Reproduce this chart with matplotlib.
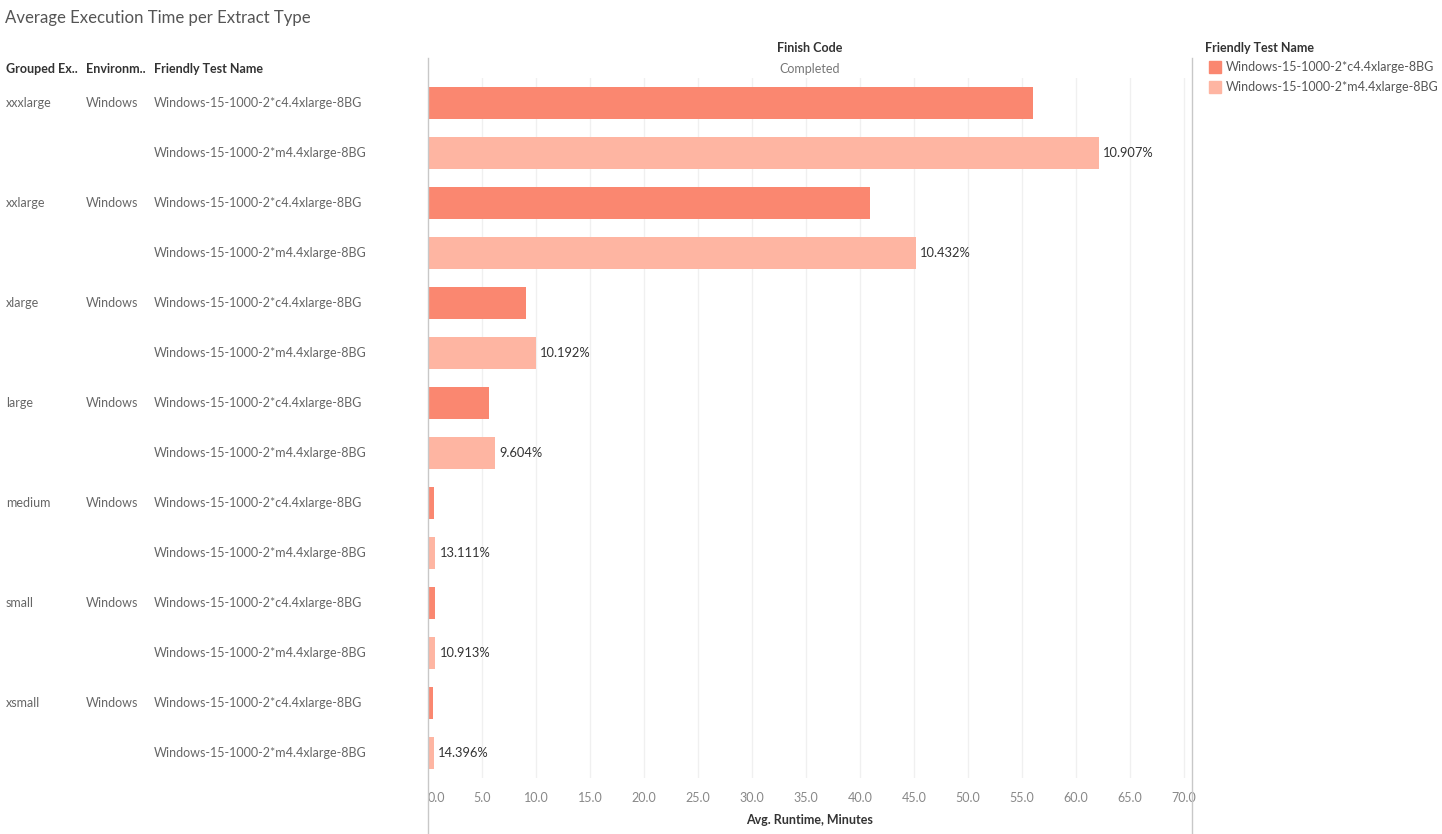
import matplotlib.pyplot as plt
from matplotlib.patches import Rectangle
import matplotlib.transforms as mtransforms

plt.rcParams['font.family'] = ['Lato', 'DejaVu Sans']

# data
groups = ["xxxlarge", "xxlarge", "xlarge", "large", "medium", "small", "xsmall"]
environment = "Windows"
tests = ["Windows-15-1000-2*c4.4xlarge-8BG", "Windows-15-1000-2*m4.4xlarge-8BG"]
c4_runtime = [56.0, 40.9, 9.07, 5.65, 0.60, 0.62, 0.45]
m4_runtime = [62.1, 45.2, 10.0, 6.2, 0.68, 0.69, 0.52]
pct_labels = ["10.907%", "10.432%", "10.192%", "9.604%", "13.111%", "10.913%", "14.396%"]
xticks = [0, 5, 10, 15, 20, 25, 30, 35, 40, 45, 50, 55, 60, 65, 70]

c4_color = "#FA8770"
m4_color = "#FEB5A2"
FS = 9

W, H = 1442, 834
fig = plt.figure(figsize=(W / 100, H / 100), dpi=100)

# axes in pixel coords
left, right, top, bottom = 428, 1192, 78, 778
ax = fig.add_axes([left / W, 1 - bottom / H, (right - left) / W, (bottom - top) / H])

n_rows = len(groups) * 2
ax.set_ylim(n_rows - 0.5, -0.5)
ax.set_xlim(0, (right - left) / 10.8)

for i in range(len(groups)):
    ax.barh(2 * i, c4_runtime[i], height=0.64, color=c4_color, zorder=2)
    ax.barh(2 * i + 1, m4_runtime[i], height=0.64, color=m4_color, zorder=2)
    ax.annotate(pct_labels[i], (m4_runtime[i], 2 * i + 1), xytext=(3, 0),
                textcoords="offset points", va="center", ha="left",
                fontsize=9.3, color="#333333")

for x in xticks[1:]:
    ax.axvline(x, color="#F0F0F0", lw=1, zorder=1)

for s in ax.spines.values():
    s.set_visible(False)
ax.set_yticks([])
ax.set_xticks(xticks)
ax.set_xticklabels([f"{x:.1f}" for x in xticks], fontsize=FS, color="#888888")
ax.tick_params(axis="x", length=0, pad=10)
ax.get_xticklabels()[0].set_horizontalalignment("left")

# full-height lines
fig.add_artist(plt.Line2D([left / W, left / W], [0, 1 - 58 / H], color="#C8C8C8", lw=1))
fig.add_artist(plt.Line2D([right / W, right / W], [0, 1 - 58 / H], color="#C8C8C8", lw=1))


def fy(px):
    return 1 - px / H


# title and headers
fig.text(5 / W, fy(18), "Average Execution Time per Extract Type", fontsize=12.1,
         color="#555555", va="center")
fig.text(6 / W, fy(69), "Grouped Ex..", fontsize=FS, weight="bold", color="#333333", va="center")
fig.text(86 / W, fy(69), "Environm..", fontsize=FS, weight="bold", color="#333333", va="center")
fig.text(154 / W, fy(69), "Friendly Test Name", fontsize=FS, weight="bold", color="#333333", va="center")
fig.text(810 / W, fy(48), "Finish Code", fontsize=FS, weight="bold", color="#333333",
         ha="center", va="center")
fig.text(810 / W, fy(69), "Completed", fontsize=FS, color="#777777", ha="center", va="center")
ax.set_xlabel("Avg. Runtime, Minutes", fontsize=FS, weight="bold", color="#333333", labelpad=7)

# row labels
trans = mtransforms.blended_transform_factory(fig.transFigure, ax.transData)
for i, g in enumerate(groups):
    fig.text(6 / W, 2 * i, g, transform=trans, fontsize=FS, color="#666666", va="center")
    fig.text(86 / W, 2 * i, environment, transform=trans, fontsize=FS, color="#666666", va="center")
    for j in range(2):
        fig.text(154 / W, 2 * i + j, tests[j], transform=trans, fontsize=FS,
                 color="#666666", va="center")

# legend
fig.text(1205 / W, fy(48), "Friendly Test Name", fontsize=FS, weight="bold",
         color="#333333", va="center")
for k, (name, col) in enumerate(zip(tests, [c4_color, m4_color])):
    yc = 67 + 20 * k
    fig.add_artist(Rectangle((1209 / W, fy(yc + 6)), 12 / W, 12 / H, color=col,
                             transform=fig.transFigure))
    fig.text(1226 / W, fy(yc), name, fontsize=FS, color="#555555", va="center")

fig.savefig("out.png", dpi=100)
